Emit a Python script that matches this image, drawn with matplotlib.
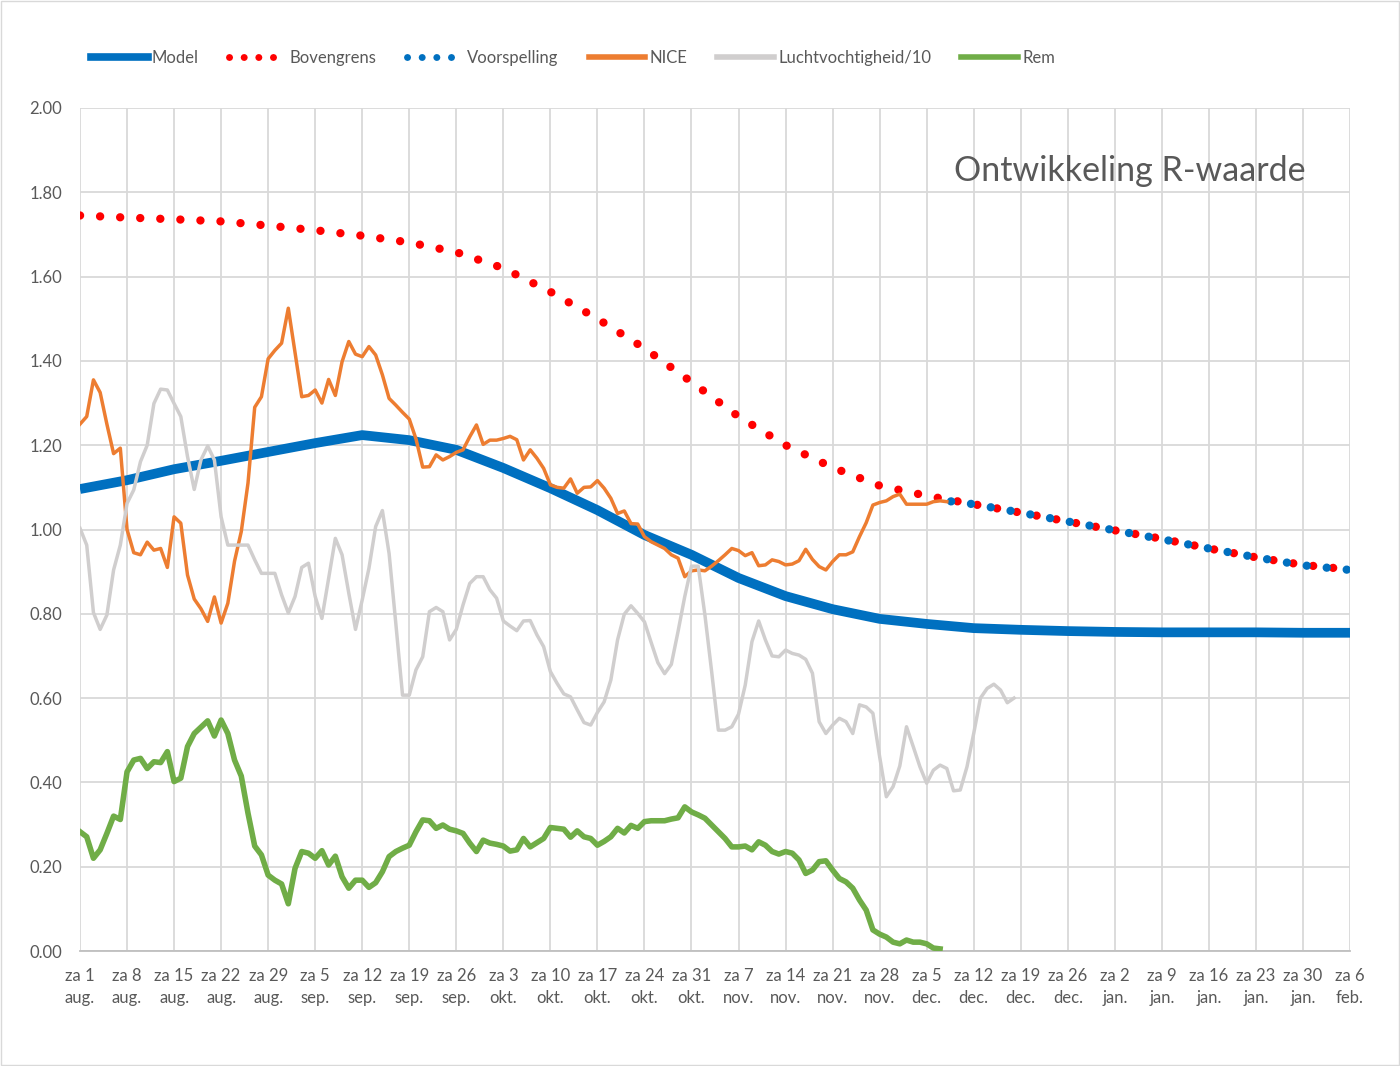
import numpy as np
import matplotlib.pyplot as plt
from matplotlib.lines import Line2D
from matplotlib.patches import Rectangle

plt.rcParams['font.family'] = ['Lato', 'DejaVu Sans']

# x ticks: every saturday from 1 aug up to 6 feb (day index 0..189)
tick_labels = ['za 1\naug.', 'za 8\naug.', 'za 15\naug.', 'za 22\naug.', 'za 29\naug.',
               'za 5\nsep.', 'za 12\nsep.', 'za 19\nsep.', 'za 26\nsep.',
               'za 3\nokt.', 'za 10\nokt.', 'za 17\nokt.', 'za 24\nokt.', 'za 31\nokt.',
               'za 7\nnov.', 'za 14\nnov.', 'za 21\nnov.', 'za 28\nnov.',
               'za 5\ndec.', 'za 12\ndec.', 'za 19\ndec.', 'za 26\ndec.',
               'za 2\njan.', 'za 9\njan.', 'za 16\njan.', 'za 23\njan.', 'za 30\njan.',
               'za 6\nfeb.']

# weekly values
week_days = np.arange(0, 190, 7)
model = [1.096, 1.117, 1.143, 1.163, 1.184, 1.205, 1.224, 1.212, 1.189, 1.146,
         1.098, 1.046, 0.987, 0.940, 0.885, 0.842, 0.811, 0.788, 0.776, 0.766,
         0.762, 0.759, 0.757, 0.756, 0.756, 0.756, 0.755, 0.755]
bovengrens = [1.745, 1.740, 1.736, 1.731, 1.721, 1.710, 1.697, 1.681, 1.658, 1.620,
              1.564, 1.500, 1.430, 1.350, 1.268, 1.200, 1.147, 1.104, 1.080, 1.060,
              1.040, 1.019, 0.998, 0.978, 0.955, 0.934, 0.916, 0.905]

voorspelling_days = [129, 133, 140, 147, 154, 161, 168, 175, 182, 189]
voorspelling = [1.068, 1.060, 1.040, 1.019, 0.998, 0.977, 0.955, 0.934, 0.915, 0.904]

# daily values
nice = [1.250, 1.268, 1.355, 1.325, 1.250, 1.180, 1.193, 1.000, 0.945, 0.940,
        0.970, 0.951, 0.955, 0.910, 1.030, 1.015, 0.892, 0.835, 0.812, 0.782,
        0.840, 0.778, 0.825, 0.925, 0.995, 1.110, 1.290, 1.315, 1.405, 1.425,
        1.442, 1.525, 1.420, 1.315, 1.318, 1.331, 1.300, 1.356, 1.318, 1.398,
        1.446, 1.416, 1.410, 1.434, 1.414, 1.367, 1.311, 1.295, 1.278, 1.262,
        1.215, 1.148, 1.149, 1.177, 1.165, 1.173, 1.183, 1.189, 1.220, 1.248,
        1.202, 1.212, 1.212, 1.216, 1.221, 1.213, 1.165, 1.189, 1.169, 1.145,
        1.106, 1.100, 1.098, 1.120, 1.086, 1.100, 1.101, 1.116, 1.098, 1.074,
        1.038, 1.044, 1.014, 1.013, 0.983, 0.971, 0.963, 0.955, 0.940, 0.932,
        0.888, 0.902, 0.904, 0.902, 0.913, 0.926, 0.940, 0.955, 0.950, 0.938,
        0.945, 0.914, 0.916, 0.928, 0.924, 0.916, 0.918, 0.926, 0.953, 0.929,
        0.912, 0.904, 0.924, 0.940, 0.940, 0.947, 0.983, 1.016, 1.058, 1.064,
        1.068, 1.078, 1.084, 1.060, 1.060, 1.060, 1.060, 1.066, 1.068, 1.066]

luchtvochtigheid = [1.003, 0.963, 0.803, 0.763, 0.797, 0.904, 0.963, 1.062, 1.094, 1.161,
                    1.200, 1.299, 1.333, 1.331, 1.299, 1.268, 1.173, 1.095, 1.165, 1.198,
                    1.165, 1.030, 0.963, 0.963, 0.963, 0.963, 0.928, 0.896, 0.896, 0.896,
                    0.845, 0.802, 0.841, 0.910, 0.920, 0.841, 0.789, 0.884, 0.979, 0.940,
                    0.849, 0.763, 0.833, 0.908, 1.007, 1.045, 0.943, 0.777, 0.607, 0.607,
                    0.667, 0.698, 0.805, 0.815, 0.805, 0.738, 0.763, 0.821, 0.872, 0.888,
                    0.888, 0.857, 0.837, 0.783, 0.771, 0.760, 0.783, 0.784, 0.750, 0.722,
                    0.663, 0.635, 0.610, 0.603, 0.572, 0.542, 0.536, 0.566, 0.591, 0.643,
                    0.738, 0.799, 0.819, 0.801, 0.781, 0.732, 0.684, 0.658, 0.680, 0.758,
                    0.841, 0.913, 0.913, 0.797, 0.663, 0.524, 0.524, 0.532, 0.562, 0.631,
                    0.734, 0.783, 0.738, 0.700, 0.698, 0.714, 0.706, 0.702, 0.692, 0.659,
                    0.544, 0.516, 0.536, 0.552, 0.544, 0.516, 0.584, 0.579, 0.564, 0.461,
                    0.366, 0.390, 0.439, 0.532, 0.485, 0.437, 0.398, 0.429, 0.441, 0.433,
                    0.380, 0.382, 0.437, 0.516, 0.600, 0.623, 0.633, 0.619, 0.589, 0.600]

rem = [0.283, 0.271, 0.220, 0.240, 0.279, 0.320, 0.312, 0.425, 0.453, 0.457,
       0.433, 0.449, 0.447, 0.473, 0.402, 0.410, 0.485, 0.516, 0.531, 0.546,
       0.510, 0.548, 0.516, 0.453, 0.415, 0.327, 0.249, 0.228, 0.180, 0.168,
       0.159, 0.112, 0.196, 0.236, 0.232, 0.220, 0.238, 0.204, 0.225, 0.176,
       0.149, 0.168, 0.168, 0.151, 0.162, 0.188, 0.224, 0.236, 0.244, 0.251,
       0.283, 0.311, 0.309, 0.291, 0.299, 0.289, 0.285, 0.279, 0.256, 0.236,
       0.263, 0.256, 0.253, 0.249, 0.237, 0.240, 0.267, 0.247, 0.257, 0.267,
       0.293, 0.291, 0.289, 0.270, 0.285, 0.271, 0.267, 0.251, 0.260, 0.271,
       0.291, 0.280, 0.298, 0.291, 0.307, 0.309, 0.309, 0.309, 0.313, 0.316,
       0.342, 0.330, 0.323, 0.315, 0.299, 0.283, 0.267, 0.247, 0.247, 0.249,
       0.240, 0.259, 0.251, 0.236, 0.230, 0.236, 0.232, 0.216, 0.184, 0.192,
       0.212, 0.214, 0.192, 0.172, 0.164, 0.149, 0.121, 0.097, 0.050, 0.040,
       0.033, 0.021, 0.017, 0.026, 0.021, 0.021, 0.017, 0.007, 0.005]

c_blue = '#0070C0'
c_red = '#FF0000'
c_orange = '#ED7D31'
c_grey = '#D0CECE'
c_green = '#70AD47'
c_text = '#595959'
c_grid = '#D9D9D9'

fig = plt.figure(figsize=(14, 10.66), dpi=100)
ax = fig.add_axes([80/1400, 1-951/1066, 1270/1400, 843/1066])

ax.plot(week_days, model, color=c_blue, lw=7, solid_capstyle='butt', zorder=3)
ax.plot(week_days, bovengrens, color=c_red, lw=6, linestyle=(0, (0.01, 2.4)),
        dash_capstyle='round', zorder=4)
ax.plot(voorspelling_days, voorspelling, color=c_blue, lw=6, linestyle=(1.9, (0.01, 2.4)),
        dash_capstyle='round', zorder=5)
ax.plot(np.arange(len(nice)), nice, color=c_orange, lw=2.5, zorder=6)
ax.plot(np.arange(len(luchtvochtigheid)), luchtvochtigheid, color=c_grey, lw=2.5, zorder=7)
ax.plot(np.arange(len(rem)), rem, color=c_green, lw=4, zorder=8)

ax.set_xlim(0, 189)
ax.set_ylim(0, 2.0)
ax.set_xticks(week_days)
ax.set_xticklabels(tick_labels, fontsize=12, color=c_text, linespacing=1.5)
ax.set_yticks(np.arange(0, 2.01, 0.2))
ax.set_yticklabels(['%.2f' % v for v in np.arange(0, 2.01, 0.2)], fontsize=12, color=c_text)
ax.tick_params(length=0, pad=12)
ax.tick_params(axis='y', pad=13)
ax.grid(True, color=c_grid, lw=1.3)
ax.set_axisbelow(True)
for s in ['top', 'right', 'left']:
    ax.spines[s].set_visible(False)
ax.spines['bottom'].set_color('#BFBFBF')
ax.spines['bottom'].set_linewidth(1.3)

ax.text(0.965, 0.925, 'Ontwikkeling R-waarde', transform=ax.transAxes, ha='right',
        va='center', fontsize=24.5, color=c_text)

handles = [
    Line2D([], [], color=c_blue, lw=5.5),
    Line2D([], [], color=c_red, lw=5, linestyle=(0, (0.01, 2.1)), dash_capstyle='round'),
    Line2D([], [], color=c_blue, lw=5, linestyle=(0, (0.01, 2.1)), dash_capstyle='round'),
    Line2D([], [], color=c_orange, lw=4),
    Line2D([], [], color=c_grey, lw=4),
    Line2D([], [], color=c_green, lw=4),
]
labels = ['Model', 'Bovengrens', 'Voorspelling', 'NICE', 'Luchtvochtigheid/10', 'Rem']
leg = fig.legend(handles, labels, loc='center left', bbox_to_anchor=(76/1400, 1-58/1066),
                 ncol=6, frameon=False, fontsize=12, handlelength=3.4, handletextpad=0.25,
                 columnspacing=1.8, labelcolor=c_text)

fig.patches.append(Rectangle((0.001, 0.001), 0.998, 0.998, transform=fig.transFigure,
                             fill=False, edgecolor=c_grid, lw=1))

fig.savefig('out.png', dpi=100)
